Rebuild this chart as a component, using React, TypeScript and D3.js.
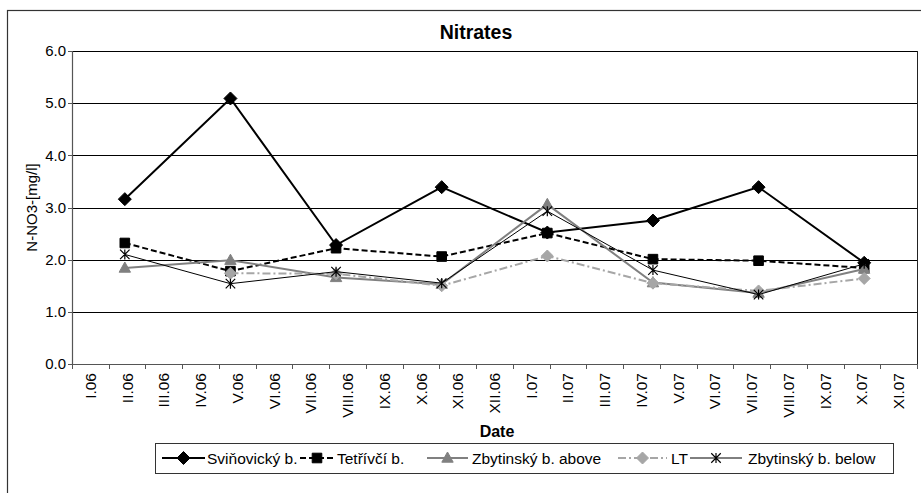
import React from "react";
import * as d3 from "d3";

const months = [
  "I.06", "II.06", "III.06", "IV.06", "V.06", "VI.06", "VII.06", "VIII.06", "IX.06", "X.06", "XI.06", "XII.06",
  "I.07", "II.07", "III.07", "IV.07", "V.07", "VI.07", "VII.07", "VIII.07", "IX.07", "X.07", "XI.07",
];
const samples = ["II.06", "V.06", "VIII.06", "XI.06", "I.07", "IV.07", "VII.07", "X.07"];
const yTicks = [0, 1, 2, 3, 4, 5, 6];

const svinovicky = [3.16, 5.09, 2.28, 3.39, 2.52, 2.75, 3.39, 1.94];
const tetrivci = [2.32, 1.78, 2.22, 2.06, 2.51, 2.01, 1.98, 1.84];
const zbytAbove = [1.84, 1.99, 1.66, 1.53, 3.06, 1.56, 1.36, 1.82];
const lt: (number | null)[] = [null, 1.74, 1.73, 1.5, 2.07, 1.55, 1.4, 1.64];
const zbytBelow = [2.1, 1.54, 1.77, 1.55, 2.93, 1.8, 1.33, 1.92];

type Marker = "diamond" | "square" | "triangle" | "star";
interface Series {
  name: string;
  values: (number | null)[];
  color: string;
  width: number;
  dash: string;
  marker: Marker;
  msize: number;
}

const series: Series[] = [
  { name: "Sviňovický b.", values: svinovicky, color: "#000000", width: 2, dash: "", marker: "diamond", msize: 6.5 },
  { name: "Tetřívčí b.", values: tetrivci, color: "#000000", width: 2, dash: "6,3", marker: "square", msize: 4.8 },
  { name: "Zbytinský b. above", values: zbytAbove, color: "#808080", width: 2, dash: "", marker: "triangle", msize: 6 },
  { name: "LT", values: lt, color: "#a6a6a6", width: 2, dash: "8,3,2,3", marker: "diamond", msize: 6 },
  { name: "Zbytinský b. below", values: zbytBelow, color: "#000000", width: 1, dash: "", marker: "star", msize: 5 },
];

const W = 921;
const H = 493;
const plot = { left: 72, right: 917, top: 51, bottom: 364 };
const FONT = "'Liberation Sans', Arial, Helvetica, sans-serif";

function markerPath(m: Marker, s: number): string {
  if (m === "diamond") return `M0,${-s}L${s},0L0,${s}L${-s},0Z`;
  if (m === "square") return `M${-s},${-s}H${s}V${s}H${-s}Z`;
  if (m === "triangle") return `M0,${-s}L${s * 0.95},${s * 0.7}L${-s * 0.95},${s * 0.7}Z`;
  const a = s * 0.95;
  return `M${-a},${-a}L${a},${a}M${-a},${a}L${a},${-a}M0,${-s}V${s}`;
}

function MarkerShape({ s, x, y }: { s: Series; x: number; y: number }) {
  const isStar = s.marker === "star";
  return (
    <path
      d={markerPath(s.marker, s.msize)}
      transform={`translate(${x},${y})`}
      fill={isStar ? "none" : s.color}
      stroke={s.color}
      strokeWidth={isStar ? 1.2 : 1}
    />
  );
}

export default function App() {
  const xMonth = d3.scaleBand<string>().domain(months).range([plot.left, plot.right]).padding(0);
  const xSample = d3.scaleBand<string>().domain(samples).range([plot.left, plot.right]).padding(0);
  const y = d3.scaleLinear().domain([0, 6]).range([plot.bottom, plot.top]);

  const sx = (i: number) => (xSample(samples[i]) as number) + xSample.bandwidth() / 2;

  const line = d3
    .line<number | null>()
    .defined((d) => d != null)
    .x((_, i) => sx(i))
    .y((d) => y(d as number));

  const tickXs = months.map((m) => xMonth(m) as number).concat([plot.right]);

  const legendY = 458;
  const legendItems = [
    { l1: 162, l2: 205, tx: 207 },
    { l1: 300, l2: 334, tx: 337 },
    { l1: 427, l2: 468, tx: 472 },
    { l1: 618, l2: 667, tx: 671 },
    { l1: 690, l2: 742, tx: 748 },
  ];

  return (
    <svg
      width={W}
      height={H}
      style={{ position: "absolute", left: 0, top: 0, background: "#fff" }}
      fontFamily={FONT}
    >
      <rect x={0} y={0} width={W} height={H} fill="#fff" />
      <rect x={7.5} y={10.5} width={W + 20} height={H + 20} fill="none" stroke="#333" strokeWidth={1.2} />

      <text x={476} y={39} textAnchor="middle" fontSize={19.5} fontWeight="bold">
        Nitrates
      </text>

      {yTicks.filter((t) => t > 0).map((t) => (
        <line key={t} x1={plot.left} x2={plot.right} y1={Math.round(y(t)) + 0.5} y2={Math.round(y(t)) + 0.5} stroke="#000" strokeWidth={1} />
      ))}
      <line x1={plot.right + 0.5} x2={plot.right + 0.5} y1={plot.top} y2={plot.bottom + 4} stroke="#222" strokeWidth={1} />

      <line x1={plot.left + 0.5} x2={plot.left + 0.5} y1={plot.top} y2={plot.bottom} stroke="#555" strokeWidth={1.2} />
      {yTicks.map((t) => (
        <g key={t}>
          <line x1={plot.left - 4} x2={plot.left} y1={Math.round(y(t)) + 0.5} y2={Math.round(y(t)) + 0.5} stroke="#555" />
          <text x={66} y={y(t)} dy="0.35em" textAnchor="end" fontSize={15}>
            {t.toFixed(1)}
          </text>
        </g>
      ))}
      <text
        transform={`translate(37,${(plot.top + plot.bottom) / 2}) rotate(-90)`}
        textAnchor="middle"
        fontSize={15}
      >
        N-NO3-[mg/l]
      </text>

      <line x1={plot.left} x2={plot.right} y1={plot.bottom + 0.5} y2={plot.bottom + 0.5} stroke="#555" strokeWidth={1.2} />
      {tickXs.map((tx, i) => (
        <line key={i} x1={Math.round(tx) + 0.5} x2={Math.round(tx) + 0.5} y1={plot.bottom} y2={plot.bottom + 5} stroke="#555" />
      ))}
      {months.map((m) => {
        const cx = (xMonth(m) as number) + xMonth.bandwidth() / 2;
        return (
          <text key={m} transform={`translate(${cx + 5.5},${373}) rotate(-90)`} textAnchor="end" fontSize={15.5}>
            {m}
          </text>
        );
      })}
      <text x={497} y={437} textAnchor="middle" fontSize={16} fontWeight="bold">
        Date
      </text>

      {series.map((s) => (
        <g key={s.name}>
          <path d={line(s.values) || ""} fill="none" stroke={s.color} strokeWidth={s.width} strokeDasharray={s.dash || undefined} />
          {s.values.map((v, i) => (v == null ? null : <MarkerShape key={i} s={s} x={sx(i)} y={y(v)} />))}
        </g>
      ))}

      <rect x={155.5} y={443.5} width={738} height={30} fill="#fff" stroke="#333" strokeWidth={1} />
      {series.map((s, i) => {
        const it = legendItems[i];
        return (
          <g key={s.name}>
            <line x1={it.l1} x2={it.l2} y1={legendY} y2={legendY} stroke={s.color} strokeWidth={s.width} strokeDasharray={s.dash || undefined} />
            <MarkerShape s={s} x={(it.l1 + it.l2) / 2} y={legendY} />
            <text x={it.tx} y={legendY} dy="0.36em" fontSize={15.5}>
              {s.name}
            </text>
          </g>
        );
      })}
    </svg>
  );
}
